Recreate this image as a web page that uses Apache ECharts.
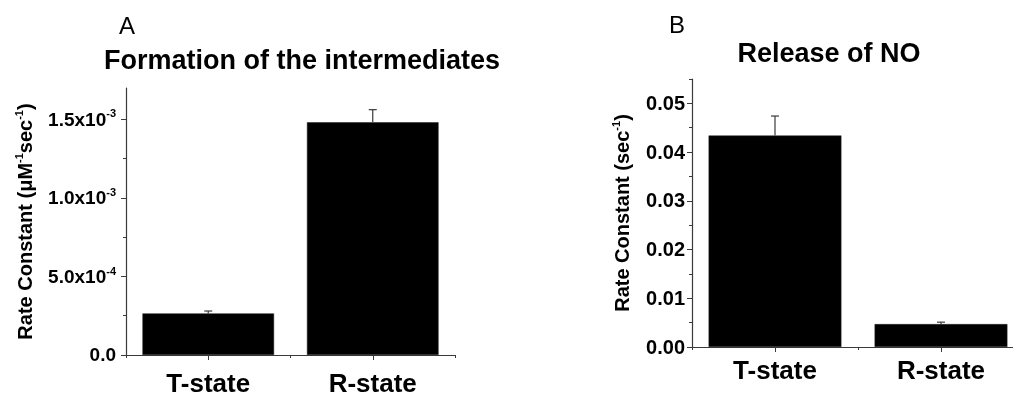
<!DOCTYPE html>
<html>
<head>
<meta charset="utf-8">
<script src="https://cdn.jsdelivr.net/npm/echarts@6/dist/echarts.min.js"></script>
<style>
  html, body { margin: 0; padding: 0; background: #fff; }
  #chart { width: 1013px; height: 397px; }
</style>
</head>
<body>
<div id="chart"></div>
<script>
// Hemoglobin state comparison: two rate-constant bar panels
const categories = ['T-state', 'R-state'];

// Panel A: formation of the intermediates (µM^-1 sec^-1)
const formationRate = [2.65e-4, 1.482e-3];
const formationErr = [1.5e-5, 8.0e-5];
const formationTicks = [0, 5e-4, 1e-3, 1.5e-3];
const formationTickLabels = [['0.0', ''], ['5.0x10', '-4'], ['1.0x10', '-3'], ['1.5x10', '-3']];
const formationMinorTicks = [2.5e-4, 7.5e-4, 1.25e-3];

// Panel B: release of NO (sec^-1)
const releaseRate = [0.0434, 0.0047];
const releaseErr = [0.0040, 0.0004];
const releaseTicks = [0, 0.01, 0.02, 0.03, 0.04, 0.05];
const releaseTickLabels = ['0.00', '0.01', '0.02', '0.03', '0.04', '0.05'];
const releaseMinorTicks = [0.005, 0.015, 0.025, 0.035, 0.045, 0.055];

const FONT = '"Liberation Sans", Arial, sans-serif';
const AXIS_COLOR = '#3a3a3a';

function tickRich(size) {
  return {
    m: { fontFamily: FONT, fontWeight: 'bold', fontSize: size, color: '#000', lineHeight: size + 2, verticalAlign: 'bottom' },
    s: { fontFamily: FONT, fontWeight: 'bold', fontSize: 11, color: '#000', lineHeight: 11, verticalAlign: 'top' }
  };
}
const nameRich = {
  m: { fontFamily: FONT, fontWeight: 'bold', fontSize: 20, color: '#000', lineHeight: 22, verticalAlign: 'bottom' },
  s: { fontFamily: FONT, fontWeight: 'bold', fontSize: 11, color: '#000', lineHeight: 12, verticalAlign: 'top' }
};

function findIndex(list, v) {
  for (let i = 0; i < list.length; i++) {
    if (Math.abs(list[i] - v) < 1e-9) return i;
  }
  return -1;
}

function errorBarItem(params, api) {
  const cat = api.value(0);
  const top = api.coord([cat, api.value(1)]);
  const up = api.coord([cat, api.value(1) + api.value(2)]);
  const style = { stroke: AXIS_COLOR, lineWidth: 1.2 };
  return {
    type: 'group',
    children: [
      { type: 'line', shape: { x1: top[0], y1: top[1], x2: up[0], y2: up[1] }, style: style },
      { type: 'line', shape: { x1: up[0] - 4, y1: up[1], x2: up[0] + 4, y2: up[1] }, style: style }
    ]
  };
}

function xAxes(gridIndex, labelMargin) {
  return [
    {
      gridIndex: gridIndex, type: 'category', data: categories, position: 'bottom',
      axisLine: { show: true, lineStyle: { color: AXIS_COLOR, width: 1.2 } },
      axisTick: { show: true, alignWithLabel: true, inside: false, length: 5, lineStyle: { color: AXIS_COLOR } },
      axisLabel: { show: true, color: '#000', fontFamily: FONT, fontWeight: 'bold', fontSize: 26, margin: labelMargin },
      splitLine: { show: false }
    },
    {
      gridIndex: gridIndex, type: 'category', data: categories, position: 'bottom',
      axisLine: { show: false },
      axisTick: { show: true, alignWithLabel: false, inside: false, length: 3, lineStyle: { color: AXIS_COLOR } },
      axisLabel: { show: false },
      splitLine: { show: false }
    }
  ];
}

function yAxes(gridIndex, max, ticks, minor, labelFmt, labelSize, labelMargin, name, nameGap) {
  return [
    {
      gridIndex: gridIndex, type: 'value', min: 0, max: max, position: 'left',
      name: name, nameLocation: 'middle', nameGap: nameGap, nameRotate: 90,
      nameTextStyle: { rich: nameRich },
      axisLine: { show: true, lineStyle: { color: AXIS_COLOR, width: 1.2 } },
      axisTick: { show: true, inside: false, length: 5, customValues: ticks, lineStyle: { color: AXIS_COLOR } },
      axisLabel: { show: true, margin: labelMargin, customValues: ticks, formatter: labelFmt, rich: tickRich(labelSize) },
      splitLine: { show: false }
    },
    {
      gridIndex: gridIndex, type: 'value', min: 0, max: max, position: 'left',
      axisLine: { show: false },
      axisTick: { show: true, inside: false, length: 3, customValues: minor, lineStyle: { color: AXIS_COLOR } },
      axisLabel: { show: false },
      splitLine: { show: false }
    }
  ];
}

const chart = echarts.init(document.getElementById('chart'), null, { renderer: 'canvas' });

const option = {
  backgroundColor: '#fff',
  animation: false,
  graphic: [
    { type: 'text', x: 127, y: 27, style: { text: 'A', fontFamily: FONT, fontSize: 24, fill: '#000', textAlign: 'center', textVerticalAlign: 'middle' } },
    { type: 'text', x: 302, y: 62, style: { text: 'Formation of the intermediates', fontFamily: FONT, fontWeight: 'bold', fontSize: 27, fill: '#000', textAlign: 'center', textVerticalAlign: 'middle' } },
    { type: 'text', x: 677, y: 26, style: { text: 'B', fontFamily: FONT, fontSize: 24, fill: '#000', textAlign: 'center', textVerticalAlign: 'middle' } },
    { type: 'text', x: 829, y: 55, style: { text: 'Release of NO', fontFamily: FONT, fontWeight: 'bold', fontSize: 27, fill: '#000', textAlign: 'center', textVerticalAlign: 'middle' } }
  ],
  grid: [
    { left: 126, top: 88, width: 329, height: 267, containLabel: false, outerBoundsMode: 'none' },
    { left: 692, top: 79, width: 332, height: 268, containLabel: false, outerBoundsMode: 'none' }
  ],
  xAxis: xAxes(0, 17).concat(xAxes(1, 12)),
  yAxis: yAxes(0, 1.7e-3, formationTicks, formationMinorTicks, function (v) {
    const i = findIndex(formationTicks, v);
    if (i < 0) return '';
    const lab = formationTickLabels[i];
    return lab[1] ? '{m|' + lab[0] + '}{s|' + lab[1] + '}' : '{m|' + lab[0] + '}';
  }, 19, 10, '{m|Rate Constant (μM}{s|-1}{m|sec}{s|-1}{m|)}', 90).concat(
    yAxes(1, 0.055, releaseTicks, releaseMinorTicks, function (v) {
      const i = findIndex(releaseTicks, v);
      return i < 0 ? '' : '{m|' + releaseTickLabels[i] + '}';
    }, 20, 7, '{m|Rate Constant (sec}{s|-1}{m|)}', 59)
  ),
  series: [
    {
      type: 'bar', xAxisIndex: 0, yAxisIndex: 0, data: formationRate, barWidth: '80%',
      itemStyle: { color: '#000', borderColor: '#222', borderWidth: 0.5 }
    },
    {
      type: 'custom', xAxisIndex: 0, yAxisIndex: 0, renderItem: errorBarItem, z: 3,
      data: formationRate.map(function (v, i) { return [i, v, formationErr[i]]; })
    },
    {
      type: 'bar', xAxisIndex: 2, yAxisIndex: 2, data: releaseRate, barWidth: '80%',
      itemStyle: { color: '#000', borderColor: '#222', borderWidth: 0.5 }
    },
    {
      type: 'custom', xAxisIndex: 2, yAxisIndex: 2, renderItem: errorBarItem, z: 3,
      data: releaseRate.map(function (v, i) { return [i, v, releaseErr[i]]; })
    }
  ]
};

chart.setOption(option);
</script>
</body>
</html>
